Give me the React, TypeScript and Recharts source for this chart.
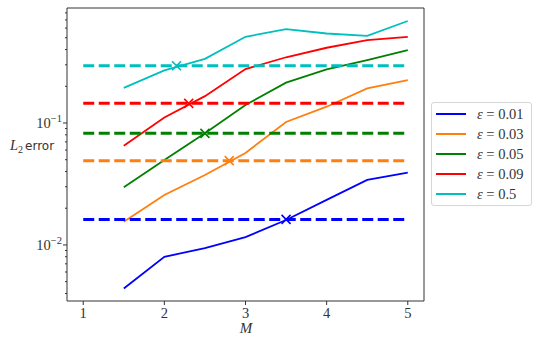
import React from 'react';
import { ComposedChart, Line, Scatter, XAxis, YAxis, ReferenceArea, Legend } from 'recharts';

// grid of M values shared by all the error curves
const mValues = [1.5, 2, 2.5, 3, 3.5, 4, 4.5, 5];

// L2 error per epsilon
const err001 = [0.0044, 0.0080, 0.0094, 0.0116, 0.0160, 0.0234, 0.0341, 0.0392];
const err003 = [0.0155, 0.0257, 0.0375, 0.0568, 0.102, 0.136, 0.192, 0.225];
const err005 = [0.0297, 0.0497, 0.0823, 0.1406, 0.214, 0.275, 0.328, 0.396];
const err009 = [0.0652, 0.111, 0.166, 0.277, 0.346, 0.414, 0.479, 0.509];
const err05 = [0.194, 0.27, 0.336, 0.509, 0.589, 0.542, 0.519, 0.686];

// horizontal reference levels (dashed) and where the curve crosses them
const epsLabels = ['0.01', '0.03', '0.05', '0.09', '0.5'];
const levels = [0.0162, 0.0491, 0.0823, 0.145, 0.295];
const crossM = [3.5, 2.8, 2.5, 2.3, 2.15];
const colors = ['#0000ff', '#ff7f0e', '#008000', '#ff0000', '#00bfbf'];

const xTicks = [1, 2, 3, 4, 5];
const yTicks = [
    0.004, 0.005, 0.006, 0.007, 0.008, 0.009,
    0.01, 0.02, 0.03, 0.04, 0.05, 0.06, 0.07, 0.08, 0.09,
    0.1, 0.2, 0.3, 0.4, 0.5, 0.6, 0.7, 0.8,
];
const yMajor: Record<string, string> = { '0.01': '−2', '0.1': '−1' };

const X_DOMAIN = [0.8, 5.2];
const Y_DOMAIN = [0.00347, 0.877];
const AXIS = '#333';
const SERIF = '"Liberation Serif", "DejaVu Serif", serif';

const curves = [err001, err003, err005, err009, err05].map((vals, i) => ({
    name: epsLabels[i],
    color: colors[i],
    data: mValues.map((m, j) => ({ x: m, y: vals[j] })),
    level: [{ x: 1, y: levels[i] }, { x: 5, y: levels[i] }],
    cross: [{ x: crossM[i], y: levels[i] }],
}));

function YTick(props: any) {
    const { x, y, payload } = props;
    const sup = yMajor[String(payload.value)];
    return (
        <g>
            <line x1={x} x2={x - (sup ? 4 : 2)} y1={y} y2={y} stroke={AXIS} strokeWidth={1} />
            {sup && (
                <text x={x - 5} y={y + 5} textAnchor="end" fontFamily={SERIF} fontSize={14.5} fill="#333">
                    10<tspan dy={-6} fontSize={10.5}>{sup}</tspan>
                </text>
            )}
        </g>
    );
}

function XTick(props: any) {
    const { x, y, payload } = props;
    return (
        <g>
            <line x1={x} x2={x} y1={y} y2={y + 4} stroke={AXIS} strokeWidth={1} />
            <text x={x} y={y + 17} textAnchor="middle" fontFamily={SERIF} fontSize={14.5} fill="#333">
                {payload.value}
            </text>
        </g>
    );
}

function Cross(props: any) {
    const { cx, cy, fill } = props;
    const r = 4.5;
    return (
        <path d={`M${cx - r},${cy - r}L${cx + r},${cy + r}M${cx - r},${cy + r}L${cx + r},${cy - r}`} stroke={fill} strokeWidth={1.6} fill="none" />
    );
}

function LegendBox() {
    return (
        <div style={{
            width: 101, height: 104, boxSizing: 'border-box', border: '1px solid #d6d6d6', borderRadius: 3,
            background: 'rgba(255,255,255,0.8)', paddingTop: 1,
        }}>
            {curves.map(c => (
                <div key={c.name} style={{ display: 'flex', alignItems: 'center', height: 20 }}>
                    <div style={{ width: 30, height: 2, background: c.color, marginLeft: 4, marginRight: 11 }} />
                    <span style={{ fontFamily: SERIF, fontSize: 14.5, color: '#333', whiteSpace: 'nowrap' }}>
                        <i>ε</i> = {c.name}
                    </span>
                </div>
            ))}
        </div>
    );
}

export default function App() {
    return (
        <div style={{ position: 'fixed', left: 0, top: 0, width: 540, height: 339, background: '#fff' }}>
            <ComposedChart width={540} height={339} margin={{ top: 8, right: 116, bottom: 0, left: 0 }}>
                <XAxis
                    dataKey="x"
                    type="number"
                    domain={X_DOMAIN}
                    ticks={xTicks}
                    interval={0}
                    allowDataOverflow
                    height={38}
                    tickSize={0}
                    tickMargin={0}
                    tickLine={false}
                    axisLine={false}
                    tick={<XTick />}
                    label={{
                        content: () => (
                            <text x={246} y={333} textAnchor="middle" fontFamily={SERIF} fontStyle="italic" fontSize={15} fill="#333">M</text>
                        ),
                    }}
                />
                <YAxis
                    dataKey="y"
                    type="number"
                    scale="log"
                    domain={Y_DOMAIN}
                    ticks={yTicks}
                    interval={0}
                    allowDataOverflow
                    width={67}
                    tickSize={0}
                    tickMargin={0}
                    tickLine={false}
                    axisLine={false}
                    tick={<YTick />}
                    label={{
                        content: () => (
                            <text x={10} y={150} fontSize={13} fill="#333">
                                <tspan fontFamily={SERIF} fontStyle="italic" fontSize={14.5}>L</tspan>
                                <tspan fontFamily={SERIF} fontSize={10} dy={3}>2</tspan>
                                <tspan fontFamily='"DejaVu Sans", sans-serif' fontSize={12} dy={-3} dx={2}>error</tspan>
                            </text>
                        ),
                    }}
                />
                <ReferenceArea
                    x1={X_DOMAIN[0]} x2={X_DOMAIN[1]} y1={Y_DOMAIN[0]} y2={Y_DOMAIN[1]}
                    fill="none" stroke={AXIS} strokeWidth={1} ifOverflow="visible"
                />
                {curves.map(c => (
                    <Line
                        key={'l' + c.name}
                        data={c.data}
                        dataKey="y"
                        name={'ε = ' + c.name}
                        stroke={c.color}
                        strokeWidth={1.8}
                        dot={false}
                        activeDot={false}
                        type="linear"
                        isAnimationActive={false}
                    />
                ))}
                {curves.map(c => (
                    <Line
                        key={'d' + c.name}
                        data={c.level}
                        dataKey="y"
                        stroke={c.color}
                        strokeWidth={3}
                        strokeDasharray="11 4.5"
                        dot={false}
                        activeDot={false}
                        legendType="none"
                        isAnimationActive={false}
                    />
                ))}
                {curves.map(c => (
                    <Scatter
                        key={'x' + c.name}
                        data={c.cross}
                        dataKey="y"
                        fill={c.color}
                        shape={<Cross />}
                        legendType="none"
                        isAnimationActive={false}
                    />
                ))}
                <Legend
                    layout="vertical"
                    align="center"
                    verticalAlign="middle"
                    wrapperStyle={{ left: 431, top: 102 }}
                    content={() => <LegendBox />}
                />
            </ComposedChart>
        </div>
    );
}
